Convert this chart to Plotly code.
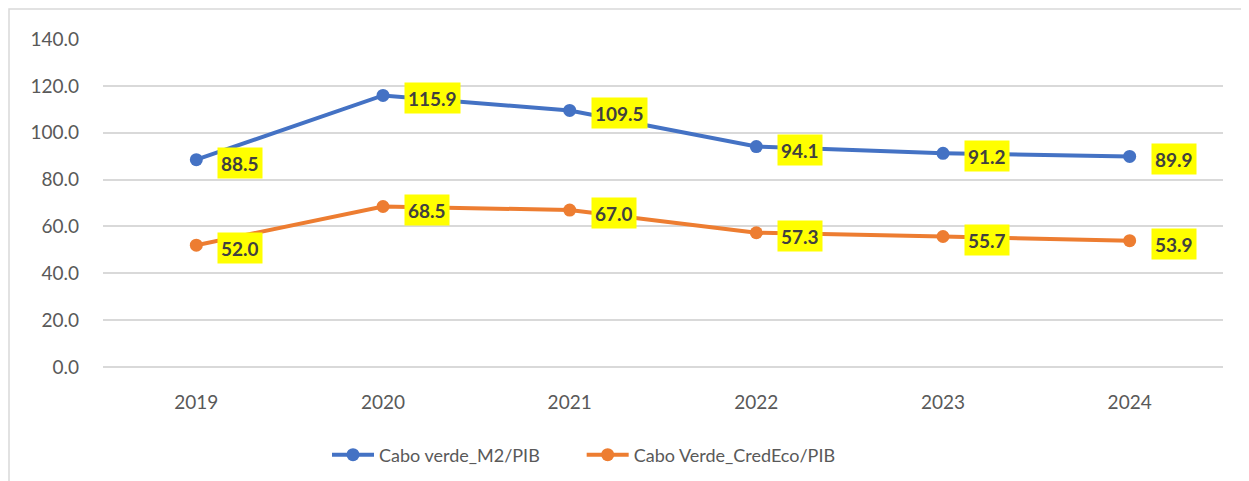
import plotly.graph_objects as go

years = ["2019", "2020", "2021", "2022", "2023", "2024"]
m2_pib = [88.5, 115.9, 109.5, 94.1, 91.2, 89.9]
credeco_pib = [52.0, 68.5, 67.0, 57.3, 55.7, 53.9]
y_ticks = [0, 20, 40, 60, 80, 100, 120, 140]
series_names = ["Cabo verde_M2/PIB", "Cabo Verde_CredEco/PIB"]

series = [
    (series_names[0], m2_pib, "#4472C4"),
    (series_names[1], credeco_pib, "#ED7D31"),
]

# page body has an 8px margin; size the figure so it fits the window
OFF = 8
W, H = 1249 - OFF, 481 - OFF
L, R, T, B = 103 - OFF, 26, 39 - OFF, 114
pw, ph = W - L - R, H - T - B
bottom = T + ph

FONT = "Lato, Open Sans, sans-serif"
PAD = "\u00a0" * 8  # extra spacing after the first legend entry

fig = go.Figure()
annotations = []
for k, (name, vals, color) in enumerate(series):
    fig.add_trace(go.Scatter(
        x=years, y=vals, name=name + (PAD if k == 0 else ""), mode="lines+markers",
        line=dict(color=color, width=4),
        marker=dict(color=color, size=13),
    ))
    for i, yv in enumerate(vals):
        annotations.append(dict(
            x=i, y=yv, xref="x", yref="y", text=f"<b>{yv:.1f}</b>",
            showarrow=False, xanchor="left", yanchor="middle",
            xshift=21, yshift=-3, bgcolor="#FFFF00", borderpad=3, height=24,
            font=dict(family=FONT, size=19, color="#404040"),
        ))

fig.update_layout(
    width=W, height=H,
    margin=dict(l=L, r=R, t=T, b=B, autoexpand=False),
    paper_bgcolor="white", plot_bgcolor="white",
    font=dict(family=FONT, color="#595959", size=18),
    showlegend=True,
    legend=dict(
        orientation="h", x=(327 - OFF - L) / pw, xanchor="left",
        y=-(455 - OFF - bottom) / ph, yanchor="middle",
        font=dict(family=FONT, size=18, color="#595959"), itemwidth=42,
        traceorder="normal", bgcolor="rgba(0,0,0,0)",
    ),
    annotations=annotations,
    shapes=[dict(
        type="rect", xref="paper", yref="paper",
        x0=(9 - OFF - L) / pw, x1=(1260 - OFF - L) / pw,
        y0=-(495 - OFF - bottom) / ph, y1=(bottom - (9 - OFF)) / ph,
        line=dict(color="#D9D9D9", width=1.5), fillcolor="rgba(0,0,0,0)", layer="below",
    )],
)
fig.update_xaxes(
    type="category", range=[-0.5, 5.5], showgrid=False, showline=False,
    zeroline=False, ticks="", ticklabelstandoff=22,
    tickfont=dict(family=FONT, size=19, color="#595959"),
)
fig.update_yaxes(
    range=[0, 140], tickvals=y_ticks, tickformat=".1f",
    showgrid=True, gridcolor="#D9D9D9", gridwidth=1.5,
    zeroline=True, zerolinecolor="#D9D9D9", zerolinewidth=1.5,
    showline=False, ticks="", ticklabelstandoff=23,
    tickfont=dict(family=FONT, size=19, color="#595959"),
)

fig.write_html("out.html")
